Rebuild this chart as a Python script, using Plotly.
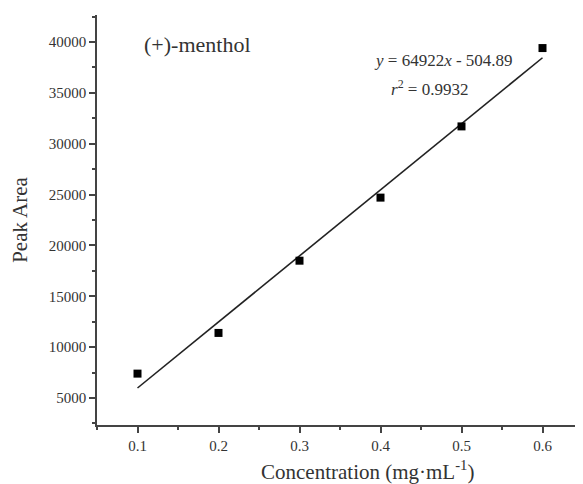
import numpy as np
import plotly.graph_objects as go

concentration = [0.1, 0.2, 0.3, 0.4, 0.5, 0.6]
peak_area = [7400, 11400, 18500, 24700, 31700, 39400]
slope = 64922
intercept = -504.89
r2 = 0.9932
x_ticks = [0.1, 0.2, 0.3, 0.4, 0.5, 0.6]
x_ticklabels = ["0.1", "0.2", "0.3", "0.4", "0.5", "0.6"]
y_ticks = [5000, 10000, 15000, 20000, 25000, 30000, 35000, 40000]
y_ticklabels = ["5000", "10000", "15000", "20000", "25000", "30000", "35000", "40000"]

x_fit = np.array([concentration[0], concentration[-1]])
y_fit = slope * x_fit + intercept

font = "Liberation Serif, Times New Roman, serif"
txt = "#333"
ax = "#444"

fig = go.Figure()
fig.add_trace(go.Scatter(x=x_fit, y=y_fit, mode="lines",
                         line=dict(color="#222", width=1.6), showlegend=False))
fig.add_trace(go.Scatter(x=concentration, y=peak_area, mode="markers",
                         marker=dict(symbol="square", size=8, color="black"),
                         showlegend=False))

# the page body adds an 8px margin, compensated here
fig.update_layout(
    width=575, height=476,
    margin=dict(l=89, r=0, t=7, b=59),
    paper_bgcolor="white", plot_bgcolor="white",
    font=dict(family=font, color=txt),
    xaxis=dict(range=[0.05, 0.65], tickvals=x_ticks, ticktext=x_ticklabels,
               showline=True, linecolor=ax, linewidth=1.5,
               ticks="outside", ticklen=6, tickcolor=ax, tickwidth=1.5,
               minor=dict(dtick=0.05, tick0=0.05, ticks="outside", ticklen=3, tickcolor=ax, tickwidth=1.5),
               showgrid=False, zeroline=False, automargin=False,
               tickfont=dict(size=15, family=font, color=txt)),
    yaxis=dict(range=[2350, 42650], tickvals=y_ticks, ticktext=y_ticklabels,
               showline=True, linecolor=ax, linewidth=1.5,
               ticks="outside", ticklen=6, tickcolor=ax, tickwidth=1.5,
               minor=dict(dtick=2500, tick0=0, ticks="outside", ticklen=3, tickcolor=ax, tickwidth=1.5),
               showgrid=False, zeroline=False, automargin=False,
               tickfont=dict(size=15, family=font, color=txt),
               title=dict(text="Peak Area", font=dict(size=21, family=font, color=txt), standoff=18)),
    annotations=[
        dict(xref="paper", yref="paper", x=0.556, y=-0.111, xanchor="center", yanchor="middle",
             text="Concentration (mg·mL<sup>-1</sup>)", showarrow=False,
             font=dict(size=21, family=font, color=txt)),
        dict(xref="paper", yref="paper", x=0.092, y=0.927, xanchor="left", yanchor="middle",
             text="(+)-menthol", showarrow=False, font=dict(size=22, family=font, color=txt)),
        dict(xref="paper", yref="paper", x=0.566, y=0.89, xanchor="left", yanchor="middle",
             text=f"<i>y</i> = {slope}<i>x</i> - {abs(intercept)}", showarrow=False,
             font=dict(size=17, family=font, color=txt)),
        dict(xref="paper", yref="paper", x=0.6, y=0.822, xanchor="left", yanchor="middle",
             text=f"<i>r</i><sup>2</sup> = {r2}", showarrow=False,
             font=dict(size=17, family=font, color=txt)),
    ],
)

fig.write_html("out.html")
